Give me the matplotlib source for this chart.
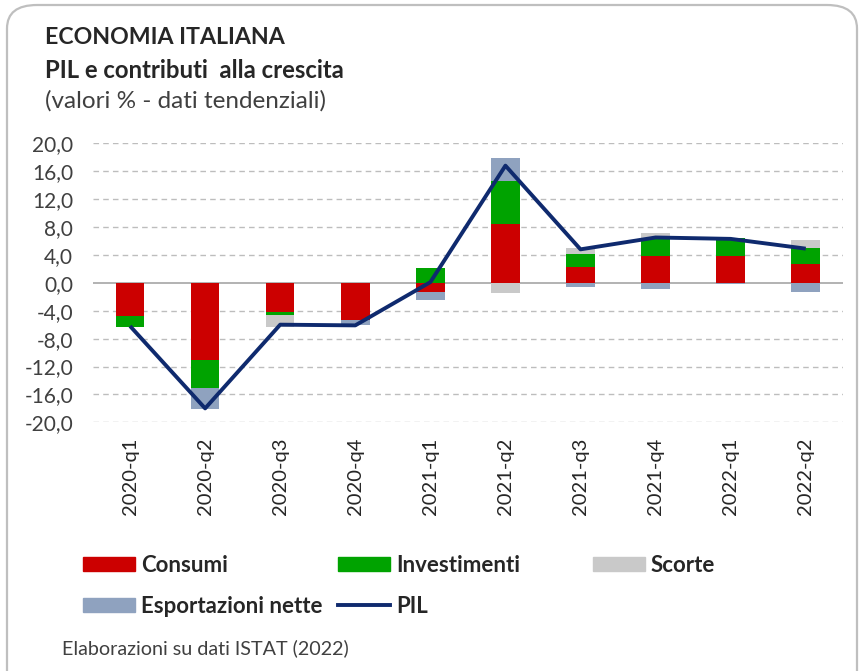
import numpy as np
import matplotlib
matplotlib.use("Agg")
import matplotlib.pyplot as plt
from matplotlib.patches import FancyBboxPatch, Patch
from matplotlib.lines import Line2D

plt.rcParams['font.family'] = ['Lato', 'DejaVu Sans']

# data (contributi, punti %)
trimestri = ['2020-q1', '2020-q2', '2020-q3', '2020-q4', '2021-q1',
             '2021-q2', '2021-q3', '2021-q4', '2022-q1', '2022-q2']
consumi = [-4.8, -11.1, -4.2, -5.3, -1.3, 8.4, 2.3, 3.8, 3.8, 2.7]
investimenti = [-1.5, -4.0, -0.4, 0.0, 2.1, 6.2, 1.8, 2.6, 2.6, 2.25]
scorte = [0.0, 0.0, -1.7, 0.0, 0.0, -1.4, 0.85, 0.8, 0.0, 1.25]
esportazioni = [0.0, -3.0, 0.0, -0.8, -1.2, 3.3, -0.6, -0.9, -0.1, -1.3]
pil = [-6.2, -18.0, -6.0, -6.1, 0.1, 16.8, 4.8, 6.5, 6.3, 4.9]

serie = [('Consumi', consumi, '#CC0000'),
         ('Investimenti', investimenti, '#00A300'),
         ('Scorte', scorte, '#C9C9C9'),
         ('Esportazioni nette', esportazioni, '#8FA2BF')]

fig = plt.figure(figsize=(8.59, 6.71), dpi=100)
ax = fig.add_axes([0.1077, 0.3706, 0.874, 0.4158])

x = np.arange(len(trimestri))
pos_base = np.zeros(len(x))
neg_base = np.zeros(len(x))
for name, vals, col in serie:
    v = np.array(vals)
    base = np.where(v >= 0, pos_base, neg_base)
    ax.bar(x, v, 0.38, bottom=base, color=col, zorder=3)
    pos_base = pos_base + np.where(v > 0, v, 0)
    neg_base = neg_base + np.where(v < 0, v, 0)

ax.plot(x, pil, color='#0F2A6E', lw=2.8, zorder=4, solid_capstyle='butt')

ax.set_xlim(-0.5, len(x) - 0.5)
ax.set_ylim(-20, 20)
ticks = np.arange(-20, 21, 4)
ax.set_yticks(ticks)
ax.set_yticklabels([('%.1f' % t).replace('.', ',') for t in ticks])
for t in ticks:
    if t == 0:
        ax.axhline(0, color='#A6A6A6', lw=1.2, zorder=2)
    else:
        ax.axhline(t, color='#BDBDBD', lw=1.0, ls=(0, (4, 3)), zorder=1)
ax.set_xticks(x)
ax.set_xticklabels(trimestri, rotation=90)
ax.tick_params(axis='y', length=0, pad=14, labelsize=15, labelcolor='#404040')
ax.tick_params(axis='x', length=0, pad=11, labelsize=14.5, labelcolor='#262626')
for s in ax.spines.values():
    s.set_visible(False)

# cornice arrotondata
fig.patches.append(FancyBboxPatch((7 / 859, -0.05), 850 / 859, 1.05 - 5 / 671,
                                  boxstyle='round,pad=0,rounding_size=0.035',
                                  transform=fig.transFigure, fill=False,
                                  ec='#BFBFBF', lw=1.6, zorder=0))

fig.text(45 / 859, 1 - 38 / 671, 'ECONOMIA ITALIANA', fontsize=16.7,
         fontweight='bold', color='#262626', va='center')
fig.text(45 / 859, 1 - 70 / 671, 'PIL e contributi  alla crescita', fontsize=17.2,
         fontweight='bold', color='#262626', va='center')
fig.text(45 / 859, 1 - 101 / 671, '(valori % - dati tendenziali)', fontsize=17.5,
         color='#404040', va='center')
fig.text(62 / 859, 1 - 648 / 671, 'Elaborazioni su dati ISTAT (2022)', fontsize=14.2,
         color='#404040', va='center')

# legenda in tre colonne
h = {n: Patch(color=c) for n, v, c in serie}
h['PIL'] = Line2D([], [], color='#0F2A6E', lw=2.8)
colonne = [(['Consumi', 'Esportazioni nette'], 83),
           (['Investimenti', 'PIL'], 338),
           (['Scorte'], 593)]
for labs, xl in colonne:
    leg = fig.legend([h[l] for l in labs], labs, loc='upper left',
                     bbox_to_anchor=(xl / 859, 1 - 555 / 671), frameon=False,
                     handlelength=2.35, handleheight=0.57, handletextpad=0.25,
                     labelspacing=0.88, borderaxespad=0, borderpad=0,
                     prop={'size': 16, 'weight': 'bold'})
    for t in leg.get_texts():
        t.set_color('#262626')

fig.savefig('out.png', dpi=100)
